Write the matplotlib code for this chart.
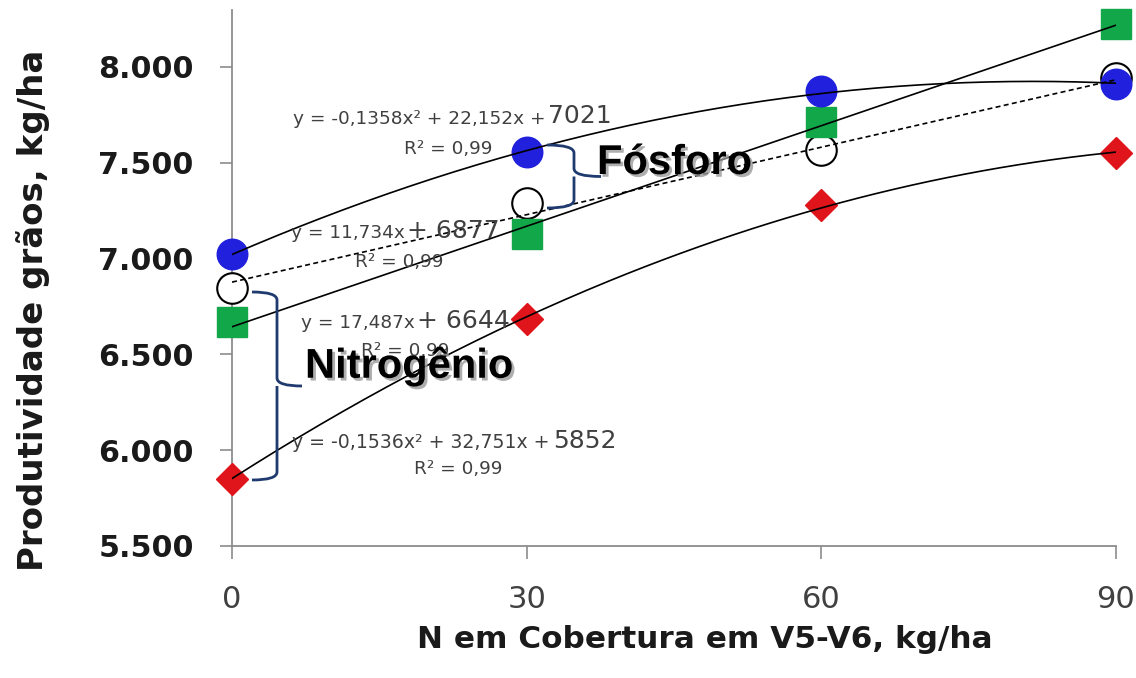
import numpy as np
import matplotlib
matplotlib.use("Agg")
import matplotlib.pyplot as plt
import matplotlib.patheffects as pe
from matplotlib.path import Path
from matplotlib.patches import PathPatch
from matplotlib.ticker import FuncFormatter

# dados
doses = [0, 30, 60, 90]
prod_azul = [7025, 7555, 7875, 7910]
prod_aberto = [6845, 7290, 7565, 7940]
prod_verde = [6670, 7130, 7710, 8225]
prod_vermelho = [5850, 6685, 7280, 7550]

# coeficientes das linhas de tendencia (como impressos no grafico)
coef_azul = [-0.1358, 22.152, 7021]
coef_aberto = [11.734, 6877]
coef_verde = [17.487, 6644]
coef_vermelho = [-0.1536, 32.751, 5852]

yticks = [5500, 6000, 6500, 7000, 7500, 8000]
xticks = [0, 30, 60, 90]

W, H = 1136, 678
fig = plt.figure(figsize=(W / 100, H / 100), dpi=100)
ax = fig.add_axes([232 / W, 132 / H, 884 / W, 536 / H])

ax.plot(doses, prod_aberto, 'o', ms=22, mfc='white', mec='black', mew=1.5, clip_on=False, zorder=3)
ax.plot(doses, prod_verde, 's', ms=21, color='#12A84A', clip_on=False, zorder=4)
ax.plot(doses, prod_azul, 'o', ms=22, color='#2020DD', clip_on=False, zorder=5)
ax.plot(doses, prod_vermelho, 'D', ms=16, color='#E0141B', clip_on=False, zorder=6)

xx = np.linspace(0, 90, 200)
ax.plot(xx, np.polyval(coef_azul, xx), color='black', lw=1.2, zorder=7)
ax.plot(xx, np.polyval(coef_vermelho, xx), color='black', lw=1.2, zorder=7)
ax.plot(xx, np.polyval(coef_verde, xx), color='black', lw=1.2, zorder=7)
ax.plot(xx, np.polyval(coef_aberto, xx), color='black', lw=1.2, ls=(0, (3, 2)), zorder=7)

ax.set_xlim(0, 90)
ax.set_ylim(5500, 8297)
ax.set_xticks(xticks)
ax.set_yticks(yticks)
ax.yaxis.set_major_formatter(FuncFormatter(lambda v, p: f"{v:,.0f}".replace(",", ".")))

for s in ['top', 'right']:
    ax.spines[s].set_visible(False)
for s in ['left', 'bottom']:
    ax.spines[s].set_color('#8c8c8c')
    ax.spines[s].set_linewidth(1.3)
ax.tick_params(axis='both', direction='out', length=9, width=1.2, color='#8c8c8c')
ax.tick_params(axis='x', pad=19, labelsize=22, labelcolor='#404040')
ax.tick_params(axis='y', pad=18.5, labelsize=21.7)
for lab in ax.get_xticklabels():
    lab.set_family('DejaVu Sans')
for lab in ax.get_yticklabels():
    lab.set_family('DejaVu Sans')
    lab.set_fontweight('bold')
    lab.set_color('#1a1a1a')

fig.text(705 / W, 1 - 639 / H, 'N em Cobertura em V5-V6, kg/ha', ha='center', va='center',
         family='DejaVu Sans', fontweight='bold', fontsize=22.4, color='#1a1a1a')
fig.text(33 / W, 1 - 310 / H, 'Produtividade grãos, kg/ha', ha='center', va='center', rotation=90,
         family='DejaVu Sans', fontweight='bold', fontsize=24.5, color='#1a1a1a')


def ptxt(x, y, s, size, **kw):
    fig.text(x / W, 1 - y / H, s, va='center', family='DejaVu Sans', fontsize=size,
             color='#404040', **kw)


# equacoes
ptxt(546, 119, 'y = -0,1358x² + 22,152x +', 13.3, ha='right')
ptxt(548, 116, '7021', 18, ha='left')
ptxt(448, 149, 'R² = 0,99', 13.3, ha='center')
ptxt(405, 233, 'y = 11,734x', 13.3, ha='right')
ptxt(407, 231, '+ 6877', 18, ha='left')
ptxt(399, 262, 'R² = 0,99', 13.3, ha='center')
ptxt(415, 323, 'y = 17,487x', 13.3, ha='right')
ptxt(417, 321, '+ 6644', 18, ha='left')
ptxt(405, 351, 'R² = 0,99', 13.3, ha='center')
ptxt(549, 443, 'y = -0,1536x² + 32,751x +', 13.6, ha='right')
ptxt(553, 441, '5852', 18, ha='left')
ptxt(458, 469, 'R² = 0,99', 13.3, ha='center')

sombra = [pe.SimplePatchShadow(offset=(2, -2), shadow_rgbFace='#9a9a9a', alpha=0.8), pe.Normal()]
fig.text(597 / W, 1 - 163 / H, 'Fósforo', ha='left', va='center', family='Liberation Sans',
         fontweight='bold', fontsize=30, color='black', path_effects=sombra, zorder=10)
fig.text(305 / W, 1 - 366 / H, 'Nitrogênio', ha='left', va='center', family='Liberation Sans',
         fontweight='bold', fontsize=30, color='black', path_effects=sombra, zorder=10)


def chave(x0, y0, y1, larg, cor='#1f3a6e'):
    # chave "}" em pixels
    ym = (y0 + y1) / 2
    xm = x0 + larg * 0.5
    xt = x0 + larg
    r = min(8, (y1 - y0) / 6)
    pts = [(x0, y0), (xm, y0), (xm, y0 + r),
           (xm, ym - r), (xm, ym), (xt, ym),
           (xm, ym), (xm, ym + r),
           (xm, y1 - r), (xm, y1), (x0, y1)]
    codes = [Path.MOVETO, Path.CURVE3, Path.CURVE3,
             Path.LINETO, Path.CURVE3, Path.CURVE3,
             Path.MOVETO, Path.CURVE3,
             Path.LINETO, Path.CURVE3, Path.CURVE3]
    pts = [(px / W, 1 - py / H) for px, py in pts]
    fig.patches.append(PathPatch(Path(pts, codes), transform=fig.transFigure, fill=False,
                                 edgecolor=cor, lw=2, zorder=9))


chave(547, 145, 208, 54)
chave(252, 292, 480, 50)

fig.savefig('out.png', dpi=100)
